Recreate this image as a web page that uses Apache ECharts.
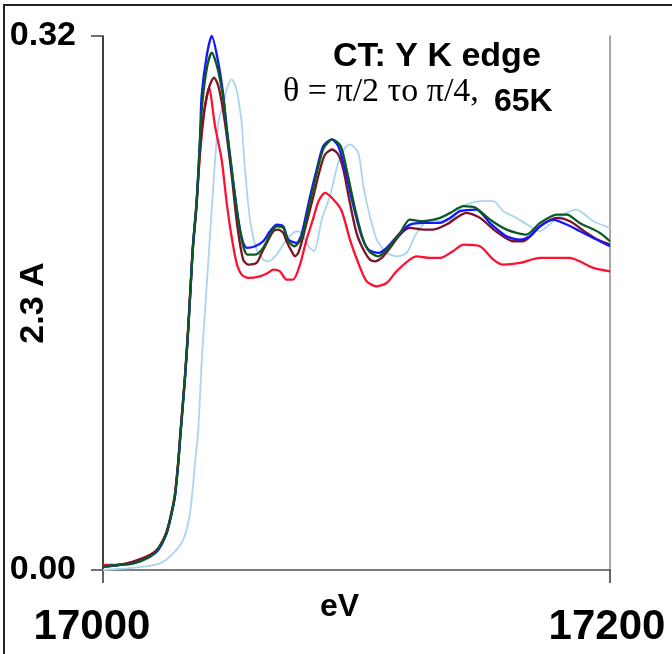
<!DOCTYPE html>
<html>
<head>
<meta charset="utf-8">
<script src="https://cdn.jsdelivr.net/npm/echarts@6/dist/echarts.min.js"></script>
<style>
  html, body { margin: 0; padding: 0; background: #ffffff; }
  #chart { width: 672px; height: 654px; }
</style>
</head>
<body>
<div id="chart"></div>
<script>
// Y K-edge absorption spectra, five scans (energy in eV, absorbance)
const blueE = [17000,17006,17012,17018.5,17021.8,17025.1,17027.1,17028.4,17029.7,17030.5,17032.3,17033.6,17034.7,17035.5,17036.9,17038.3,17038.9,17040.9,17042.9,17045.5,17047.5,17048.8,17050.7,17053.4,17055.3,17056.7,17060,17063.2,17065.9,17068.5,17071.1,17073.1,17076.4,17078.3,17081.7,17084.3,17086.9,17090.2,17092.8,17095.5,17098.8,17102,17104.7,17108.6,17111.9,17117.2,17121.1,17126.4,17133,17136.9,17140.8,17147.3,17152.6,17159.2,17164.5,17168.4,17172.4,17177.6,17182.9,17188.2,17194.7,17200];
const blueV = [0.002,0.003,0.004,0.008,0.012,0.022,0.034,0.044,0.064,0.080,0.114,0.144,0.174,0.195,0.220,0.260,0.284,0.308,0.320,0.304,0.284,0.264,0.240,0.210,0.196,0.193,0.194,0.197,0.203,0.207,0.206,0.198,0.196,0.201,0.224,0.240,0.254,0.258,0.254,0.240,0.218,0.200,0.192,0.190,0.193,0.202,0.207,0.208,0.208,0.211,0.215,0.216,0.208,0.200,0.198,0.200,0.206,0.210,0.207,0.203,0.198,0.194];

const greenE = [17000,17006,17012,17018.5,17021.8,17025.1,17027.1,17028.4,17029.7,17030.5,17032.3,17033.6,17034.7,17035.5,17036.9,17038.3,17039.2,17041,17042.9,17045.3,17047.5,17048.9,17050.8,17053.5,17055.5,17057,17060,17063.2,17065.9,17068.5,17071.1,17073.1,17075.5,17078.3,17081.9,17084.5,17087.1,17090.5,17093.8,17096.1,17099.2,17102.4,17105,17108.5,17112,17117.2,17121,17126,17133,17137,17142.2,17147,17152.6,17159.2,17167,17172.4,17179,17183,17188,17196,17200];
const greenV = [0.002,0.003,0.004,0.008,0.013,0.022,0.034,0.045,0.064,0.080,0.114,0.143,0.173,0.194,0.219,0.258,0.280,0.301,0.310,0.300,0.282,0.264,0.240,0.208,0.193,0.189,0.189,0.193,0.201,0.206,0.205,0.197,0.194,0.199,0.222,0.239,0.253,0.258,0.254,0.240,0.218,0.199,0.191,0.188,0.192,0.202,0.210,0.209,0.211,0.214,0.218,0.217,0.210,0.204,0.201,0.208,0.213,0.213,0.208,0.202,0.197];

const maroonE = [17000,17006,17012,17018.5,17021.8,17025.1,17027.1,17028.4,17029.7,17030.5,17032.3,17033.6,17034.7,17035.5,17036.9,17038.3,17040,17042,17043.8,17045.5,17047.3,17049,17050.8,17053,17055.3,17057.3,17060.6,17062.6,17064.6,17067.2,17069.2,17071.1,17072.4,17074.4,17075.7,17077,17078.3,17081,17083,17085.6,17087.6,17090.4,17092.8,17094.8,17097.4,17100,17102.7,17105.3,17107.3,17109.9,17113.2,17117.2,17121,17126.4,17130.3,17135.5,17143.4,17148.7,17155,17161.9,17165.8,17172.4,17179,17184.2,17190.8,17195,17200];
const maroonV = [0.002,0.003,0.005,0.009,0.013,0.023,0.035,0.045,0.065,0.081,0.115,0.144,0.173,0.193,0.218,0.252,0.276,0.290,0.295,0.290,0.276,0.258,0.236,0.206,0.186,0.183,0.184,0.190,0.196,0.203,0.204,0.202,0.197,0.191,0.188,0.190,0.196,0.212,0.224,0.240,0.249,0.252,0.249,0.240,0.220,0.202,0.192,0.186,0.185,0.187,0.193,0.201,0.205,0.204,0.204,0.207,0.214,0.211,0.203,0.197,0.197,0.206,0.211,0.209,0.202,0.198,0.195];

const redE = [17000,17006,17012,17018.5,17021.8,17025.1,17027.1,17028.4,17029.7,17030.5,17032.3,17033.6,17034.7,17035.5,17036.9,17038.3,17040,17041.8,17044.2,17046.8,17048.8,17050.7,17052.7,17054.7,17057.3,17061.9,17065,17067.2,17069.8,17072.4,17075,17077.7,17080.3,17083,17085,17087.6,17090.9,17094.2,17097.4,17100.7,17104,17108,17111.9,17115.8,17121,17123.7,17129,17133,17138,17142.2,17148.7,17154,17157.9,17164.5,17172.4,17184.2,17188,17193.4,17200];
const redV = [0.003,0.003,0.005,0.009,0.013,0.023,0.035,0.046,0.066,0.082,0.116,0.146,0.175,0.195,0.220,0.250,0.275,0.289,0.266,0.246,0.220,0.200,0.184,0.177,0.175,0.176,0.178,0.180,0.179,0.174,0.174,0.183,0.198,0.211,0.221,0.226,0.222,0.215,0.198,0.184,0.173,0.170,0.172,0.179,0.186,0.188,0.187,0.187,0.191,0.195,0.194,0.186,0.183,0.184,0.187,0.187,0.185,0.181,0.179];

const lightE = [17000,17009.3,17016,17022.5,17027.7,17031.6,17034.3,17036.3,17037.6,17038.9,17040.9,17043.5,17045.5,17047.5,17049,17050.8,17052.5,17053.4,17054.7,17056,17058,17060.6,17063.2,17065.2,17068.5,17072.4,17076.4,17078.3,17081,17083.3,17086.3,17089.5,17092.8,17095.5,17097.4,17100.7,17102.7,17105.3,17108,17111.9,17115.8,17119.8,17123.7,17129,17133,17138,17142,17148.7,17154,17158,17163,17168.4,17172.4,17177.6,17182.9,17186.8,17193.4,17200];
const lightV = [0.000,0.001,0.002,0.004,0.010,0.018,0.034,0.064,0.084,0.124,0.170,0.230,0.268,0.280,0.289,0.294,0.289,0.282,0.268,0.240,0.210,0.192,0.186,0.185,0.189,0.198,0.203,0.202,0.194,0.191,0.210,0.224,0.244,0.253,0.255,0.250,0.230,0.212,0.198,0.190,0.188,0.190,0.202,0.210,0.209,0.211,0.218,0.221,0.221,0.215,0.211,0.206,0.203,0.209,0.214,0.216,0.209,0.205];

// axis range and tick labels
const xMin = 17000, xMax = 17200;
const yMin = 0, yMax = 0.32;
const xTickLabels = ['17000', '17200'];
const yTickLabels = ['0.00', '0.32'];

const titleLine = 'CT: Y K edge';
const angleLine = 'θ = π/2 το π/4,';
const tempLine = '65K';

function pairs(e, v) { return e.map((x, i) => [x, v[i]]); }

const chart = echarts.init(document.getElementById('chart'), null, { renderer: 'canvas' });

const bold = 'Liberation Sans';
const xLabelFont = { fontFamily: bold, fontWeight: 'bold', fontSize: 42, color: '#000' };

function line(name, e, v, color, width, z) {
  return {
    name: name, type: 'line', data: pairs(e, v), showSymbol: false, symbol: 'none',
    smooth: 0.25, z: z, animation: false,
    lineStyle: { color: color, width: width }
  };
}

chart.setOption({
  backgroundColor: '#ffffff',
  animation: false,
  grid: { left: 103, right: 62, top: 36, bottom: 84, containLabel: false, outerBoundsMode: 'none' },
  graphic: [
    { type: 'rect', silent: true, z: 0, shape: { x: 4, y: 5, width: 760, height: 760 },
      style: { fill: 'none', stroke: '#222222', lineWidth: 2 } },
    { type: 'text', left: 333, top: 40, z: 10,
      style: { text: titleLine, font: 'bold 34px "Liberation Sans"', fill: '#000' } },
    { type: 'text', left: 283, top: 75, z: 10,
      style: { text: angleLine, font: '34px "Liberation Serif"', fill: '#000' } },
    { type: 'text', left: 494, top: 86, z: 10,
      style: { text: tempLine, font: 'bold 32px "Liberation Sans"', fill: '#000' } }
  ],
  xAxis: [{
    type: 'value', min: xMin, max: xMax, interval: 200,
    name: 'eV', nameLocation: 'middle', nameGap: 21, nameMoveOverlap: false,
    nameTextStyle: { fontFamily: bold, fontWeight: 'bold', fontSize: 32, color: '#000',
      padding: [0, 34, 0, 0] },
    axisLine: { show: true, onZero: false, lineStyle: { color: '#555555', width: 2 } },
    axisTick: { show: true, length: 13, lineStyle: { color: '#333333', width: 1.5 } },
    axisLabel: {
      margin: 36,
      formatter: v => (v === xMin ? '{a|' : '{b|') + xTickLabels[Math.round((v - xMin) / 200)] + '}',
      rich: {
        a: Object.assign({ padding: [0, 22, 0, 0] }, xLabelFont),
        b: Object.assign({ padding: [0, 6, 0, 0] }, xLabelFont)
      }
    },
    splitLine: { show: false }
  }, {
    type: 'value', position: 'top', min: xMin, max: xMax,
    axisLine: { show: true, lineStyle: { color: '#8a8a8a', width: 1.5 } },
    axisTick: { show: false }, axisLabel: { show: false }, splitLine: { show: false }
  }],
  yAxis: [{
    type: 'value', min: yMin, max: yMax, interval: 0.32,
    name: '2.3 A', nameLocation: 'middle', nameRotate: 90, nameGap: 52, nameMoveOverlap: false,
    nameTextStyle: { fontFamily: bold, fontWeight: 'bold', fontSize: 34, color: '#000' },
    axisLine: { show: true, onZero: false, lineStyle: { color: '#000000', width: 1.5 } },
    axisTick: { show: true, length: 12, lineStyle: { color: '#444444', width: 1.5 } },
    axisLabel: { margin: 27, fontFamily: bold, fontWeight: 'bold', fontSize: 34, color: '#000',
      padding: [8, 0, 0, 0],
      formatter: v => yTickLabels[Math.round(v / 0.32)] },
    splitLine: { show: false }
  }, {
    type: 'value', position: 'right', min: yMin, max: yMax,
    axisLine: { show: true, lineStyle: { color: '#8a8a8a', width: 1.5 } },
    axisTick: { show: false }, axisLabel: { show: false }, splitLine: { show: false }
  }],
  series: [
    line('light blue', lightE, lightV, '#a9d6ee', 1.8, 2),
    line('red', redE, redV, '#ff1030', 2.3, 3),
    line('maroon', maroonE, maroonV, '#7a1426', 2.3, 4),
    line('blue', blueE, blueV, '#1515ff', 2.3, 5),
    line('green', greenE, greenV, '#0b5a24', 2.3, 6)
  ]
});
</script>
</body>
</html>
